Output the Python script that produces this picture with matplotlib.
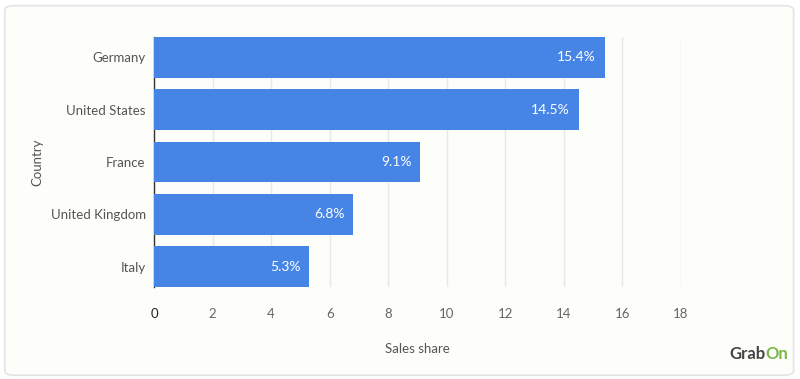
import matplotlib.pyplot as plt
from matplotlib.patches import FancyBboxPatch

countries = ['Germany', 'United States', 'France', 'United Kingdom', 'Italy']
share = [15.4, 14.5, 9.1, 6.8, 5.3]
labels = ['15.4%', '14.5%', '9.1%', '6.8%', '5.3%']
xticks = [0, 2, 4, 6, 8, 10, 12, 14, 16, 18]

plt.rcParams['font.family'] = ['Lato', 'DejaVu Sans']

bg = '#fdfdf9'
bar_color = '#4684e6'

fig = plt.figure(figsize=(8, 3.79), dpi=100)
fig.patch.set_facecolor('white')
# rounded card behind the chart
card = FancyBboxPatch((0.006, 0.01), 0.986, 0.975, boxstyle='round,pad=0,rounding_size=0.012',
                      transform=fig.transFigure, facecolor=bg, edgecolor='#e4e4e4',
                      linewidth=1.2, zorder=-10)
fig.patches.append(card)

ax = fig.add_axes([0.1925, 0.2427, 0.65875, 0.6596])
ax.patch.set_alpha(0)

y = range(len(countries))
bars = ax.barh(y, share, height=0.78, color=bar_color, zorder=3)
for b, lab in zip(bars, labels):
    ax.text(b.get_width() - 0.3, b.get_y() + b.get_height() / 2, lab,
            ha='right', va='center', color='white', fontsize=10, zorder=4)

ax.set_ylim(len(countries) - 1 + 0.39, -0.39)
ax.set_xlim(0, 18)
ax.set_yticks(list(y))
ax.set_yticklabels(countries, fontsize=9.5, color='#555555')
ax.set_xticks(xticks)
ax.set_xticklabels([str(t) for t in xticks], fontsize=9.5, color='#666666')
ax.get_xticklabels()[0].set_color('#222222')
ax.tick_params(axis='both', length=0)
ax.tick_params(axis='x', pad=15)
ax.tick_params(axis='y', pad=6)

ax.grid(axis='x', color='#e8e8e8', linewidth=1, zorder=0)
for s in ['top', 'right', 'bottom']:
    ax.spines[s].set_visible(False)
ax.spines['left'].set_color('#333333')
ax.spines['left'].set_linewidth(1)
ax.spines['left'].set_zorder(2)

ax.set_xlabel('Sales share', fontsize=9.5, color='#555555', labelpad=17)
ax.set_ylabel('Country', fontsize=9.5, color='#555555', labelpad=5)

# GrabOn logo
t1 = fig.text(0.912, 0.052, 'Grab', fontsize=12, fontweight='bold', color='#444444',
              ha='left', va='baseline')
fig.canvas.draw()
ext = t1.get_window_extent().transformed(fig.transFigure.inverted())
fig.text(ext.x1, 0.052, 'On', fontsize=12, fontweight='bold', color='#7ab648',
         ha='left', va='baseline')

fig.savefig('out.png', dpi=100, facecolor=fig.get_facecolor())
